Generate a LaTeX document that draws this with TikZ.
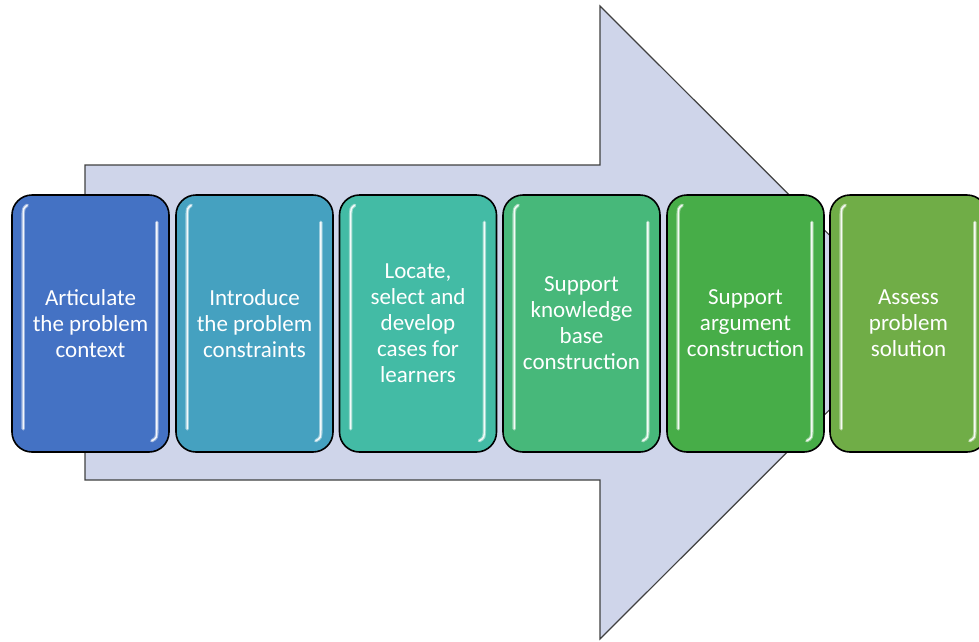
\documentclass[tikz,border=0pt]{standalone}
\usepackage{fontspec}
\setmainfont{Carlito}
\definecolor{arrowfill}{HTML}{CFD5EA}
\definecolor{arrowline}{HTML}{404040}
\definecolor{cA}{HTML}{4472C4}
\definecolor{cB}{HTML}{45A1C0}
\definecolor{cC}{HTML}{43BBA5}
\definecolor{cD}{HTML}{47B87A}
\definecolor{cE}{HTML}{47AD48}
\definecolor{cF}{HTML}{70AD47}
\tikzset{
  stepbox/.style={draw=black, line width=1.6pt, rounded corners=20pt,
    minimum width=157pt, minimum height=257pt, inner sep=0pt,
    text=white, align=center, font=\fontsize{23}{26}\selectfont},
  gloss/.style={draw=white, line width=3.5pt, opacity=0.45, line cap=round},
  glosscore/.style={draw=white, line width=1.4pt, opacity=0.9, line cap=round}
}
\newcommand{\glossy}[1]{%
  \foreach \st in {gloss,glosscore}{
    \draw[\st] ([xshift=16pt,yshift=-11pt]#1.north west) .. controls ([xshift=12pt,yshift=-14pt]#1.north west) .. ([xshift=12pt,yshift=-24pt]#1.north west) -- ([xshift=12pt,yshift=24pt]#1.south west);
    \draw[\st] ([xshift=-13pt,yshift=-28pt]#1.north east) -- ([xshift=-13pt,yshift=24pt]#1.south east) .. controls ([xshift=-13pt,yshift=15pt]#1.south east) .. ([xshift=-18pt,yshift=12pt]#1.south east);
  }
}
\begin{document}
\begin{tikzpicture}[x=1pt,y=-1pt]
\useasboundingbox (0,0) rectangle (979,641);
\draw[fill=arrowfill, draw=arrowline, line width=1.2pt, line join=miter]
  (85,165) -- (600,165) -- (600,6) -- (917,322.5) -- (600,639) -- (600,480) -- (85,480) -- cycle;
\node[stepbox, fill=cA] (s1) at (90.5,323.5) {Articulate\\the problem\\context};
\node[stepbox, fill=cB] (s2) at (254.5,323.5) {Introduce\\the problem\\constraints};
\node[stepbox, fill=cC] (s3) at (418,323.5) {Locate,\\select and\\develop\\cases for\\learners};
\node[stepbox, fill=cD] (s4) at (581.5,323.5) {Support\\knowledge\\base\\construction};
\node[stepbox, fill=cE] (s5) at (745.5,323.5) {Support\\argument\\construction};
\node[stepbox, fill=cF] (s6) at (908.5,323.5) {Assess\\problem\\solution};
\glossy{s1}\glossy{s2}\glossy{s3}\glossy{s4}\glossy{s5}\glossy{s6}
\end{tikzpicture}
\end{document}
